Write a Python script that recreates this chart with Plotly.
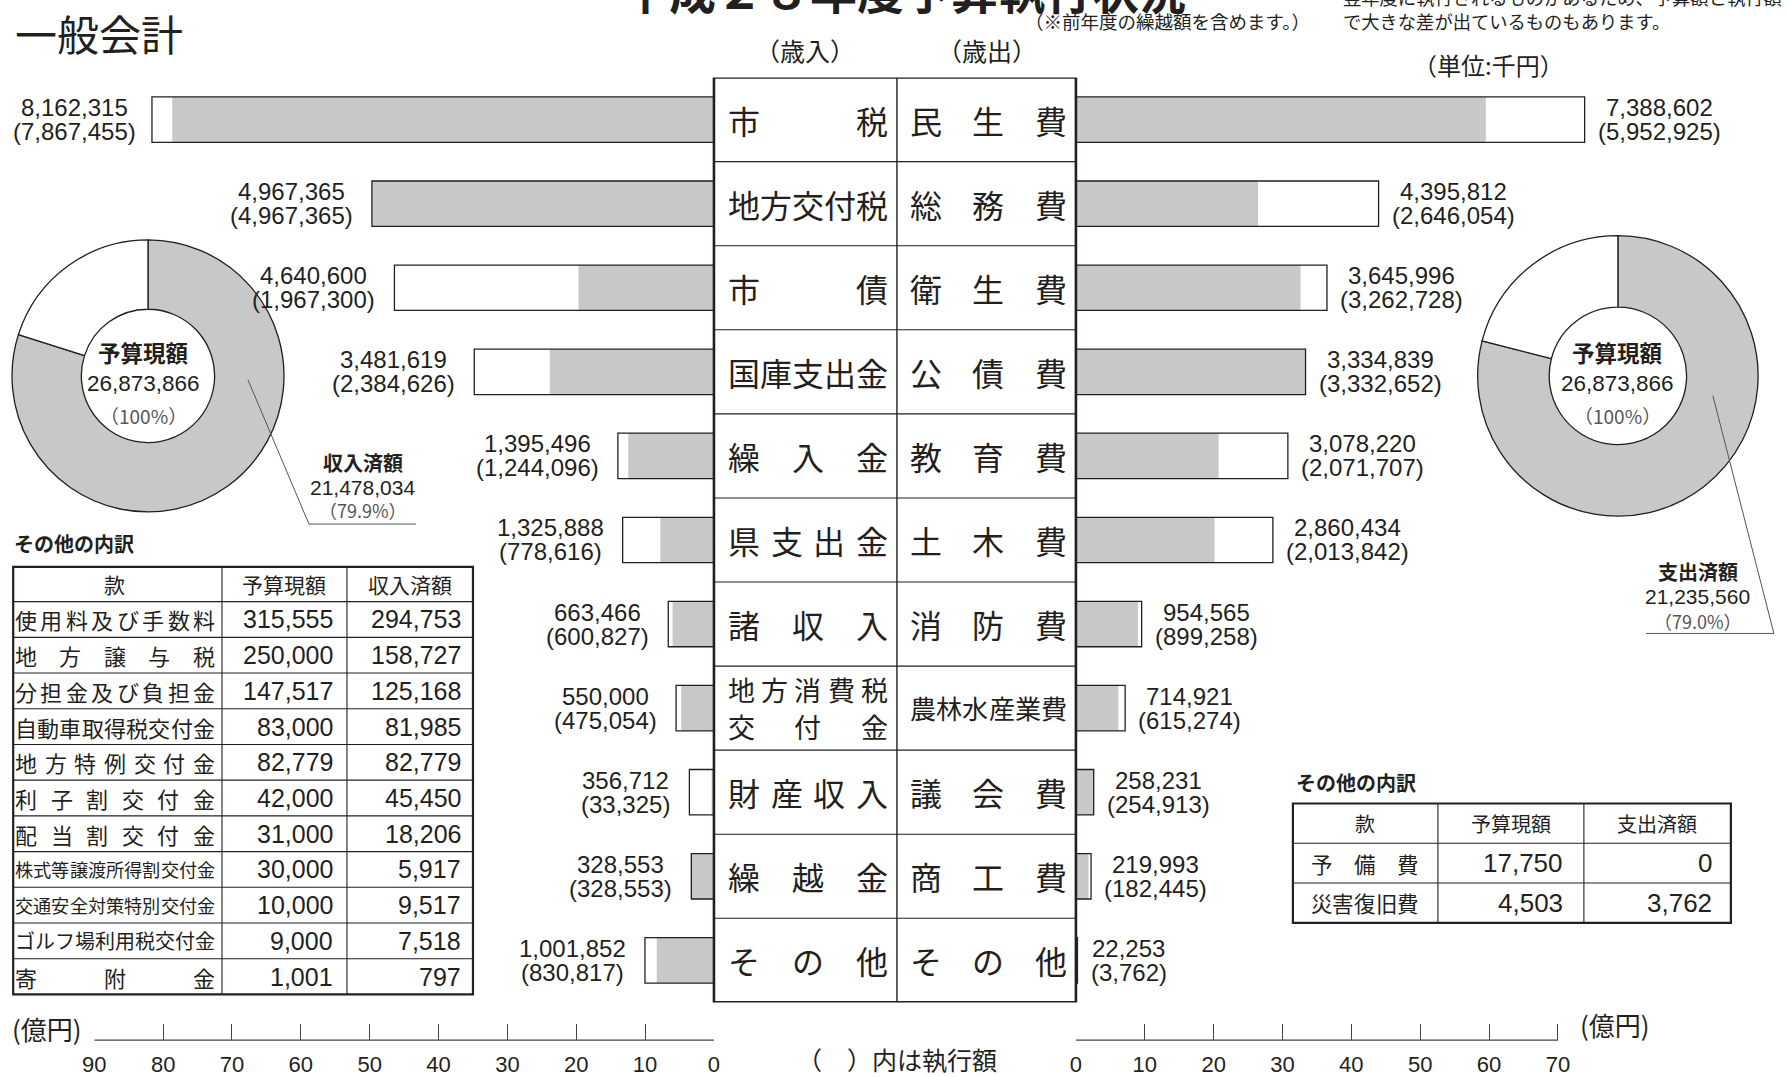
import plotly.graph_objects as go

W, H = 1788, 1077
INK = "#231f20"
GRAY = "#c8c8c8"
JP = "Noto Sans CJK JP"
NUM = "Liberation Sans, Noto Sans CJK JP"

# ---------------- data (千円) ----------------
rev_names = ["市税", "地方交付税", "市債", "国庫支出金", "繰入金", "県支出金", "諸収入",
             "地方消費税交付金", "財産収入", "繰越金", "その他"]
rev_budget = [8162315, 4967365, 4640600, 3481619, 1395496, 1325888, 663466, 550000, 356712, 328553, 1001852]
rev_exec = [7867455, 4967365, 1967300, 2384626, 1244096, 778616, 600827, 475054, 33325, 328553, 830817]

exp_names = ["民生費", "総務費", "衛生費", "公債費", "教育費", "土木費", "消防費",
             "農林水産業費", "議会費", "商工費", "その他"]
exp_budget = [7388602, 4395812, 3645996, 3334839, 3078220, 2860434, 954565, 714921, 258231, 219993, 22253]
exp_exec = [5952925, 2646054, 3262728, 3332652, 2071707, 2013842, 899258, 615274, 254913, 182445, 3762]

total_budget = 26873866
rev_done = 21478034
exp_done = 21235560

other_rev_items = ["使用料及び手数料", "地方譲与税", "分担金及び負担金", "自動車取得税交付金", "地方特例交付金",
                   "利子割交付金", "配当割交付金", "株式等譲渡所得割交付金", "交通安全対策特別交付金",
                   "ゴルフ場利用税交付金", "寄附金"]
other_rev_budget = [315555, 250000, 147517, 83000, 82779, 42000, 31000, 30000, 10000, 9000, 1001]
other_rev_done = [294753, 158727, 125168, 81985, 82779, 45450, 18206, 5917, 9517, 7518, 797]

other_exp_items = ["予備費", "災害復旧費"]
other_exp_budget = [17750, 4503]
other_exp_done = [0, 3762]

left_ticks = [0, 10, 20, 30, 40, 50, 60, 70, 80, 90]
right_ticks = [0, 10, 20, 30, 40, 50, 60, 70]

OKU = 1e5  # 千円 -> 億円

# horizontal calibration of target pixel -> drawing pixel
OX, SX = 11.0, 0.99


def D(x, lo=0.0):
    """target x pixel -> drawing x pixel (clamped to the canvas)"""
    return max(lo, (x - OX) / SX)


def X(x, lo=0.0):
    return D(x, lo) / W


def Y(y):
    return 1 - y / H


fig = go.Figure()
rows = list(range(len(rev_names)))

# ---------------- bars ----------------
fig.add_trace(go.Bar(y=rows, x=[v / OKU for v in rev_exec], orientation="h", xaxis="x", yaxis="y",
                     marker=dict(color=GRAY, line=dict(width=0)), width=0.54, hoverinfo="skip"))
fig.add_trace(go.Bar(y=rows, x=[v / OKU for v in rev_budget], orientation="h", xaxis="x", yaxis="y",
                     marker=dict(color="rgba(0,0,0,0)", line=dict(color=INK, width=1.3)), width=0.54,
                     hoverinfo="skip"))
fig.add_trace(go.Bar(y=rows, x=[v / OKU for v in exp_exec], orientation="h", xaxis="x2", yaxis="y",
                     marker=dict(color=GRAY, line=dict(width=0)), width=0.54, hoverinfo="skip"))
fig.add_trace(go.Bar(y=rows, x=[v / OKU for v in exp_budget], orientation="h", xaxis="x2", yaxis="y",
                     marker=dict(color="rgba(0,0,0,0)", line=dict(color=INK, width=1.3)), width=0.54,
                     hoverinfo="skip"))

# ---------------- donuts ----------------
fig.add_trace(go.Pie(values=[rev_done, total_budget - rev_done], labels=["収入済額", "未収入"], hole=0.49,
                     sort=False, direction="clockwise", rotation=0,
                     marker=dict(colors=[GRAY, "white"], line=dict(color=INK, width=1.3)),
                     textinfo="none", hoverinfo="skip", showlegend=False,
                     domain=dict(x=[X(3), X(283)], y=[Y(518), Y(238)])))
fig.add_trace(go.Pie(values=[exp_done, total_budget - exp_done], labels=["支出済額", "未支出"], hole=0.49,
                     sort=False, direction="clockwise", rotation=0,
                     marker=dict(colors=[GRAY, "white"], line=dict(color=INK, width=1.3)),
                     textinfo="none", hoverinfo="skip", showlegend=False,
                     domain=dict(x=[X(1476), X(1758)], y=[Y(519), Y(237)])))

shapes = []
ann = []


def text(x, y, s, size, family=JP, color=INK, xanchor="center", bold=False, yanchor="middle"):
    ann.append(dict(x=X(x), y=Y(y), xref="paper", yref="paper", text=s, showarrow=False,
                    xanchor=xanchor, yanchor=yanchor,
                    font=dict(family=family, size=size, color=color, weight="bold" if bold else "normal")))


def justify(s, x0, x1, y, size, yref="paper", yshift=0, family=JP):
    n = len(s)
    if n == 1:
        centers = [(x0 + x1) / 2]
    else:
        step = (x1 - x0 - size) / (n - 1)
        centers = [x0 + size / 2 + i * step for i in range(n)]
    for c, ch in zip(centers, s):
        ann.append(dict(x=X(c), xref="paper", y=(Y(y) if yref == "paper" else y), yref=yref, text=ch,
                        showarrow=False, xanchor="center", yanchor="middle", yshift=yshift,
                        font=dict(family=family, size=size, color=INK)))


def line(x0, y0, x1, y1, width=1.0, color=INK, lo=0.0):
    shapes.append(dict(type="line", xref="paper", yref="paper", x0=X(x0, lo), y0=Y(y0), x1=X(x1, lo), y1=Y(y1),
                       line=dict(color=color, width=width)))


def tw(s, size):
    w = 0
    for ch in s:
        if ch.isdigit():
            w += 0.556
        elif ch in ",.":
            w += 0.278
        elif ch in "()":
            w += 0.333
        elif ch == "%":
            w += 0.889
        else:
            w += 1.0
    return w * size


# ---------------- axes geometry ----------------
PXU = (1557 - 1075) / 70.0        # target pixels per 億円
R_MAX = 76                          # right axis range (bars may pass the last tick)
AX_Y = 1046
BL, BM, BR = 713, 896, 1075

# ---------------- bar value labels ----------------
LFS = 24
for i in rows:
    top, bot = f"{rev_budget[i]:,}", f"({rev_exec[i]:,})"
    w = max(tw(top, LFS), tw(bot, LFS))
    end = D(BL) - rev_budget[i] / OKU * PXU / SX
    cx = max(end - 20 - w / 2, w / 2 + 2)
    for s, ys in ((top, 12), (bot, -12)):
        ann.append(dict(x=cx / W, xref="paper", y=i, yref="y", text=s, showarrow=False,
                        xanchor="center", yanchor="middle", yshift=ys,
                        font=dict(family=NUM, size=LFS, color=INK)))
    top, bot = f"{exp_budget[i]:,}", f"({exp_exec[i]:,})"
    w = max(tw(top, LFS), tw(bot, LFS))
    end = D(BR) + exp_budget[i] / OKU * PXU / SX
    cx = end + 14 + w / 2
    for s, ys in ((top, 12), (bot, -12)):
        ann.append(dict(x=cx / W, xref="paper", y=i, yref="y", text=s, showarrow=False,
                        xanchor="center", yanchor="middle", yshift=ys,
                        font=dict(family=NUM, size=LFS, color=INK)))

# ---------------- center label box ----------------
shapes.append(dict(type="rect", xref="paper", yref="y", x0=X(BL), x1=X(BR), y0=-0.5, y1=len(rows) - 0.5,
                   line=dict(color=INK, width=2.6), fillcolor="rgba(0,0,0,0)"))
shapes.append(dict(type="line", xref="paper", yref="y", x0=X(BM), x1=X(BM), y0=-0.5, y1=len(rows) - 0.5,
                   line=dict(color=INK, width=1.4)))
for k in range(len(rows) - 1):
    shapes.append(dict(type="line", xref="paper", yref="y", x0=X(BL), x1=X(BR), y0=k + 0.5, y1=k + 0.5,
                       line=dict(color=INK, width=1.1)))

split = {"地方消費税交付金": ["地方消費税", "交付金"]}
for i in rows:
    name = rev_names[i]
    if name in split:
        l1, l2 = split[name]
        justify(l1, 727, 887, i, 27, yref="y", yshift=18.5)
        justify(l2, 727, 887, i, 27, yref="y", yshift=-18.5)
    else:
        justify(name, 727, 887, i, min(32, 160 / len(name)), yref="y")
    name = exp_names[i]
    justify(name, 909, 1066, i, min(32, 157 / len(name)), yref="y")

# ---------------- donut texts & leaders ----------------
for cx in (143, 1617):
    text(cx, 354, "予算現額", 22.5, bold=True)
    text(cx, 386, f"{total_budget:,}", 22.5, family=NUM)
    text(cx, 418, "（100%）", 19, color="#555")

line(247, 382, 308, 527, 1, "#555")
line(308, 527, 415, 527, 1, "#555")
text(362, 465, "収入済額", 20, bold=True)
text(362, 490, f"{rev_done:,}", 21, family=NUM)
text(362, 513, f"（{rev_done / total_budget * 100:.1f}%）", 18, color="#555")

line(1712, 398, 1773, 637, 1, "#555")
line(1773, 637, 1645, 637, 1, "#555")
text(1697, 575, "支出済額", 20, bold=True)
text(1697, 600, f"{exp_done:,}", 21, family=NUM)
text(1697, 624, f"（{exp_done / total_budget * 100:.1f}%）", 18, color="#555")

# ---------------- left table ----------------
text(6, 547, "その他の内訳", 20, bold=True, xanchor="left")
tx = [6, 221, 346, 472]
ttop, thead, tbot = 570, 605, 1000
rh = (tbot - thead) / len(other_rev_items)
shapes.append(dict(type="rect", xref="paper", yref="paper", x0=X(tx[0], 1.2), x1=X(tx[3]), y0=Y(tbot), y1=Y(ttop),
                   line=dict(color=INK, width=2.2)))
for xx in tx[1:3]:
    line(xx, ttop, xx, tbot, 1.1)
for k in range(len(other_rev_items)):
    line(tx[0], thead + k * rh, tx[3], thead + k * rh, 1.1, lo=1.2)
text((tx[0] + tx[1]) / 2, (ttop + thead) / 2, "款", 21)
text((tx[1] + tx[2]) / 2, (ttop + thead) / 2, "予算現額", 21)
text((tx[2] + tx[3]) / 2, (ttop + thead) / 2, "収入済額", 21)
for k, name in enumerate(other_rev_items):
    cy = thead + (k + 0.5) * rh
    justify(name, 14, 214, cy, min(22, 200 / len(name)))
    text(tx[2] - 12, cy, f"{other_rev_budget[k]:,}", 25, family=NUM, xanchor="right")
    text(tx[3] - 10, cy, f"{other_rev_done[k]:,}", 25, family=NUM, xanchor="right")

# ---------------- right table ----------------
text(1293, 787, "その他の内訳", 20, bold=True, xanchor="left")
rx = [1292, 1437, 1583, 1730]
ry = [808, 848, 888, 928]
shapes.append(dict(type="rect", xref="paper", yref="paper", x0=X(rx[0]), x1=X(rx[3]), y0=Y(ry[3]), y1=Y(ry[0]),
                   line=dict(color=INK, width=2.2)))
for xx in rx[1:3]:
    line(xx, ry[0], xx, ry[3], 1.1)
for yy in ry[1:3]:
    line(rx[0], yy, rx[3], yy, 1.1)
text((rx[0] + rx[1]) / 2, (ry[0] + ry[1]) / 2, "款", 20)
text((rx[1] + rx[2]) / 2, (ry[0] + ry[1]) / 2, "予算現額", 20)
text((rx[2] + rx[3]) / 2, (ry[0] + ry[1]) / 2, "支出済額", 20)
for k, name in enumerate(other_exp_items):
    cy = (ry[k + 1] + ry[k + 2]) / 2
    justify(name, 1310, 1418, cy, 21.5)
    text(rx[2] - 19, cy, f"{other_exp_budget[k]:,}", 26, family=NUM, xanchor="right")
    text(rx[3] - 17, cy, f"{other_exp_done[k]:,}", 26, family=NUM, xanchor="right")

# ---------------- titles / notes ----------------
text(12, 33, "一般会計", 42, xanchor="left")
text(903, -12, "平成２８年度予算執行状況", 47, bold=True)
text(1167, 21, "（※前年度の繰越額を含めます。）", 18.5)
text(1340, -3, "翌年度に執行されるものがあるため、予算額と執行額", 18.3, xanchor="left")
text(1340, 21, "で大きな差が出ているものもあります。", 18.3, xanchor="left")
text(804, 50, "（歳入）", 25)
text(986, 50, "（歳出）", 25)
text(1488, 65, "（単位:千円）", 24)
text(46, 1034, "(億円)", 26)
text(1614, 1030, "(億円)", 26)
text(896, 1065, "（　）内は執行額", 25)

# ---------------- axes ----------------
axis_common = dict(anchor="free", position=Y(AX_Y), ticks="inside", ticklen=16, tickwidth=1,
                   tickcolor="#444", showgrid=False, zeroline=False,
                   tickfont=dict(family=NUM, size=22, color=INK), ticklabelstandoff=9, fixedrange=True)

shapes.append(dict(type="line", xref="x", yref="paper", x0=left_ticks[-1], x1=left_ticks[0],
                   y0=Y(AX_Y), y1=Y(AX_Y), line=dict(color="#444", width=1.2)))
shapes.append(dict(type="line", xref="x2", yref="paper", x0=right_ticks[0], x1=right_ticks[-1],
                   y0=Y(AX_Y), y1=Y(AX_Y), line=dict(color="#444", width=1.2)))

fig.update_layout(
    width=W, height=H, autosize=False,
    margin=dict(l=0, r=0, t=0, b=0),
    paper_bgcolor="white", plot_bgcolor="rgba(0,0,0,0)",
    showlegend=False, barmode="overlay",
    xaxis=dict(domain=[X(BL - 90 * PXU), X(BL)], range=[90, 0], tickvals=left_ticks,
               showline=False, **axis_common),
    xaxis2=dict(domain=[X(BR), min(1.0, X(BR) + R_MAX * PXU / SX / W)], range=[0, R_MAX],
                tickvals=right_ticks, showline=False, **axis_common),
    yaxis=dict(domain=[Y(1008), Y(78)], range=[len(rows) - 0.5, -0.5], visible=False, fixedrange=True),
    shapes=shapes, annotations=ann,
)

fig.write_html("out.html", config={"displayModeBar": False},
               post_script="document.documentElement.style.overflow='hidden';"
                           "document.body.style.overflow='hidden';document.body.style.margin='0';")
